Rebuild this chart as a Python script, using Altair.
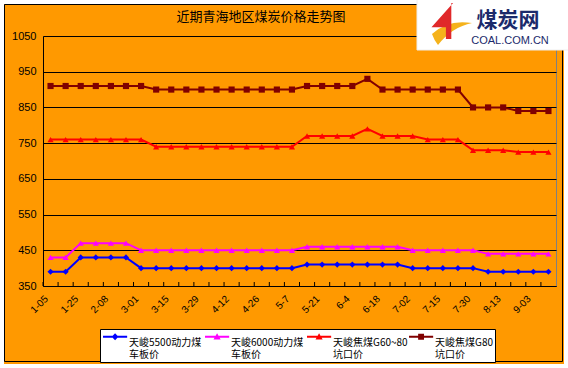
import altair as alt
import pandas as pd

# ---------------- data ----------------
dates = ["1-05", "1-15", "1-25", "2-01", "2-08", "2-22", "3-01", "3-08", "3-15", "3-22",
         "3-29", "4-05", "4-12", "4-19", "4-26", "5-01", "5-7", "5-14", "5-21", "5-28",
         "6-4", "6-11", "6-18", "6-25", "7-02", "7-09", "7-15", "7-22", "7-30", "8-06",
         "8-13", "8-20", "9-03", "9-10"]
shown_dates = dates[::2]

s5500 = [390, 390, 430, 430, 430, 430, 400, 400, 400, 400, 400, 400, 400, 400, 400, 400, 400,
         410, 410, 410, 410, 410, 410, 410, 400, 400, 400, 400, 400, 390, 390, 390, 390, 390]
s6000 = [430, 430, 470, 470, 470, 470, 450, 450, 450, 450, 450, 450, 450, 450, 450, 450, 450,
         460, 460, 460, 460, 460, 460, 460, 450, 450, 450, 450, 450, 440, 440, 440, 440, 440]
g6080 = [760, 760, 760, 760, 760, 760, 760, 740, 740, 740, 740, 740, 740, 740, 740, 740, 740,
         770, 770, 770, 770, 790, 770, 770, 770, 760, 760, 760, 730, 730, 730, 725, 725, 725]
g80 = [910, 910, 910, 910, 910, 910, 910, 900, 900, 900, 900, 900, 900, 900, 900, 900, 900,
       910, 910, 910, 910, 930, 900, 900, 900, 900, 900, 900, 850, 850, 850, 840, 840, 840]

series_names = ["天峻5500动力煤|车板价", "天峻6000动力煤|车板价",
                "天峻焦煤G60~80|坑口价", "天峻焦煤G80|坑口价"]
series_values = [s5500, s6000, g6080, g80]
y_ticks = [350, 450, 550, 650, 750, 850, 950, 1050]
title_text = "近期青海地区煤炭价格走势图"

# ---------------- styles ----------------
colors = ["#0000FF", "#FF00FF", "#FF0000", "#800000"]
shapes = ["diamond", "triangle-up", "triangle-up", "square"]

# legend symbol box is 21px (r = 10.5); paths drawn in units of r
DY = -0.57
X0, X1 = -1.0, 1.3
XC = (X0 + X1) / 2


def lpath(marker, dy=DY):
    t = 0.1
    line = f"M{X0},{dy-t:.2f}H{X1}V{dy+t:.2f}H{X0}Z"
    if marker == "diamond":
        m = (f"M{XC:.2f},{dy-0.34:.2f}L{XC+0.32:.2f},{dy:.2f}L{XC:.2f},{dy+0.34:.2f}"
             f"L{XC-0.32:.2f},{dy:.2f}Z")
    elif marker == "triangle":
        m = f"M{XC:.2f},{dy-0.34:.2f}L{XC+0.34:.2f},{dy+0.26:.2f}L{XC-0.34:.2f},{dy+0.26:.2f}Z"
    else:
        m = f"M{XC-0.28:.2f},{dy-0.28:.2f}H{XC+0.28:.2f}V{dy+0.28:.2f}H{XC-0.28:.2f}Z"
    return line + m


legend_paths = [lpath("diamond"), lpath("triangle"), lpath("triangle"), lpath("square")]

ORANGE = "#FF9900"
CJK = "Noto Sans CJK SC"
W, H = 513, 250
PL, PT = 43, 36

rows = []
for name, vals in zip(series_names, series_values):
    for d, v in zip(dates, vals):
        rows.append({"date": d, "series": name, "price": v})
df = pd.DataFrame(rows)

x_enc = alt.X(
    "date:O",
    scale=alt.Scale(domain=dates, type="band", paddingInner=0, paddingOuter=0),
    axis=alt.Axis(values=shown_dates, labelAngle=-45, labelAlign="right",
                  labelBaseline="middle", labelFont="Liberation Sans", labelFontSize=10,
                  labelColor="#000000", labelPadding=11, labelOffset=-4, ticks=False,
                  domainColor="#000000", domainWidth=1, grid=False, title=None),
)
y_enc = alt.Y(
    "price:Q",
    scale=alt.Scale(domain=[350, 1050], nice=False, zero=False),
    axis=alt.Axis(values=y_ticks, format="d", labelFont="Liberation Sans", labelFontSize=11,
                  labelColor="#000000", labelPadding=7, ticks=False,
                  domainColor="#000000", domainWidth=1,
                  grid=True, gridColor="#000000", gridWidth=1, gridOpacity=1, title=None),
)

col_scale = alt.Scale(domain=series_names, range=colors)

base = alt.Chart(df)

lines = base.mark_line(strokeWidth=2).encode(
    x=x_enc, y=y_enc,
    color=alt.Color("series:N", scale=col_scale, legend=None),
)

points = base.mark_point(filled=True, size=38, opacity=1).encode(
    x=x_enc, y=y_enc,
    color=alt.Color("series:N", scale=col_scale, legend=None),
    shape=alt.Shape("series:N", scale=alt.Scale(domain=series_names, range=shapes), legend=None),
)

ticks_df = pd.DataFrame({"date": dates})
inner_ticks = alt.Chart(ticks_df).mark_rule(color="#000000", strokeWidth=1).encode(
    x=alt.X("date:O", bandPosition=0),
    y=alt.value(H), y2=alt.value(H - 4),
)

legend_spec = alt.Legend(
    title=None, orient="none", legendX=57, legendY=293,
    direction="horizontal", columns=4, gridAlign="all",
    labelExpr="split(datum.label, '|')",
    labelFont=CJK, labelFontSize=10, labelColor="#000000", labelBaseline="middle",
    labelLimit=200, labelOffset=4,
    symbolSize=441, columnPadding=0,
    fillColor="#FFFFFF", strokeColor="#000000", padding=2,
)

legend_layer = base.mark_point(filled=True, opacity=1).encode(
    color=alt.Color("series:N", scale=col_scale, legend=legend_spec),
    shape=alt.Shape("series:N", scale=alt.Scale(domain=series_names, range=legend_paths),
                    legend=legend_spec),
).transform_filter("false")

one = pd.DataFrame({"k": [0]})

title_mark = alt.Chart(one).mark_text(
    text=title_text, font=CJK, fontSize=13, color="#000000",
    align="center", baseline="middle").encode(x=alt.value(261 - PL), y=alt.value(17 - PT))
outer_white = alt.Chart(one).mark_rect(fillOpacity=0, stroke="#FFFFFF", strokeWidth=8).encode(
    x=alt.value(-PL), x2=alt.value(568 - PL), y=alt.value(-PT), y2=alt.value(368 - PT))
outer_black = alt.Chart(one).mark_rect(fillOpacity=0, stroke="#000000", strokeWidth=1).encode(
    x=alt.value(4.5 - PL), x2=alt.value(562.5 - PL), y=alt.value(4.5 - PT), y2=alt.value(361.5 - PT))
logo_bg = alt.Chart(one).mark_rect(fill="#FFFFFF", stroke="#EEEEEE", strokeWidth=1).encode(
    x=alt.value(417 - PL), x2=alt.value(570 - PL), y=alt.value(-PT - 2), y2=alt.value(50 - PT))
logo_red = alt.Chart(one).mark_point(
    filled=True, color="#E0282A", opacity=1, size=1300,
    shape="M0.45,-1L-0.75,0.35L0.05,0.35L0.05,1L0.35,1L0.35,-1Z").encode(
    x=alt.value(445 - PL), y=alt.value(21 - PT))
logo_yellow = alt.Chart(one).mark_point(
    filled=True, color="#F5B21B", opacity=1, size=1600,
    shape="M-1,0.2Q-0.2,-0.55 1,-0.35Q0,-0.15 -0.7,0.75Q-0.9,0.5 -1,0.2Z").encode(
    x=alt.value(452 - PL), y=alt.value(30 - PT))
logo_cn = alt.Chart(one).mark_text(
    text="煤炭网", font=CJK, fontSize=21, fontWeight="bold", color="#1B2A6B",
    align="center", baseline="middle").encode(x=alt.value(508 - PL), y=alt.value(21 - PT))
logo_en = alt.Chart(one).mark_text(
    text="COAL.COM.CN", font="Liberation Sans", fontSize=11, color="#1B2A6B",
    align="center", baseline="middle").encode(x=alt.value(510 - PL), y=alt.value(41 - PT))

chart = alt.layer(
    lines, points, inner_ticks, legend_layer,
    outer_white, outer_black, title_mark, logo_bg, logo_yellow, logo_red, logo_cn, logo_en,
).resolve_scale(
    color="independent", shape="independent"
).properties(
    width=W, height=H,
    background=ORANGE,
    padding={"left": PL, "top": PT, "right": 568 - PL - W, "bottom": 368 - PT - H},
    autosize="none",
).configure_view(
    fill="#FFFFFF", stroke="#808080", strokeWidth=1,
)

chart.save("out.html", embed_options={"renderer": "svg", "actions": False})
